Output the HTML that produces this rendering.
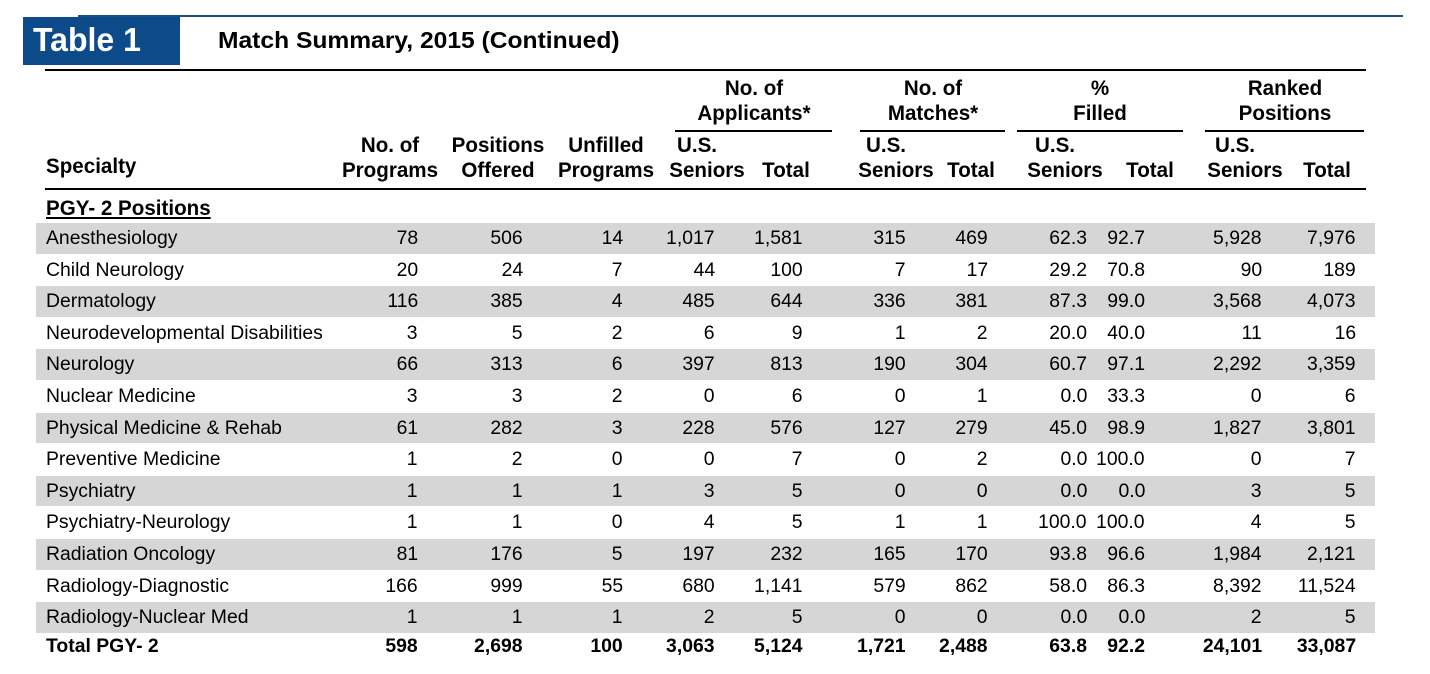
<!DOCTYPE html>
<html><head><meta charset="utf-8">
<style>
body{margin:0;width:1430px;height:674px;background:#fff;position:relative;overflow:hidden;font-family:"Liberation Sans",Arial,sans-serif;color:#000}
.a{position:absolute;white-space:nowrap}
.r{transform-origin:right center}
.l{transform-origin:left center}
.t{font-size:19px;transform:scaleX(1.02)}
.h{font-size:21px;font-weight:bold;transform:scaleX(0.98);text-align:center;line-height:25px}
.line{position:absolute;background:#000}
</style></head><body>
<div class="a" style="left:78px;top:15px;width:1325px;height:2px;background:#1a4f8a"></div>
<div class="a" style="left:23px;top:17px;width:157px;height:48px;background:#0d4a8a"></div>
<div class="a" style="left:33px;top:21px;font-size:33px;font-weight:bold;color:#fff;transform:scaleX(0.97);transform-origin:left">Table 1</div>
<div class="a" style="left:218px;top:27px;font-size:23px;font-weight:bold;transform:scaleX(1.07);transform-origin:left">Match Summary, 2015 (Continued)</div>
<div class="line" style="left:45px;top:69px;width:1321px;height:2px"></div>
<div class="line" style="left:45px;top:188px;width:1321px;height:2px"></div>
<div id="tbl"></div>
<script>
const specialties=["Anesthesiology","Child Neurology","Dermatology","Neurodevelopmental Disabilities","Neurology","Nuclear Medicine","Physical Medicine & Rehab","Preventive Medicine","Psychiatry","Psychiatry-Neurology","Radiation Oncology","Radiology-Diagnostic","Radiology-Nuclear Med"];
const programs=["78","20","116","3","66","3","61","1","1","1","81","166","1"];
const offered=["506","24","385","5","313","3","282","2","1","1","176","999","1"];
const unfilled=["14","7","4","2","6","2","3","0","1","0","5","55","1"];
const appSeniors=["1,017","44","485","6","397","0","228","0","3","4","197","680","2"];
const appTotal=["1,581","100","644","9","813","6","576","7","5","5","232","1,141","5"];
const matSeniors=["315","7","336","1","190","0","127","0","0","1","165","579","0"];
const matTotal=["469","17","381","2","304","1","279","2","0","1","170","862","0"];
const pctSeniors=["62.3","29.2","87.3","20.0","60.7","0.0","45.0","0.0","0.0","100.0","93.8","58.0","0.0"];
const pctTotal=["92.7","70.8","99.0","40.0","97.1","33.3","98.9","100.0","0.0","100.0","96.6","86.3","0.0"];
const rankSeniors=["5,928","90","3,568","11","2,292","0","1,827","0","3","4","1,984","8,392","2"];
const rankTotal=["7,976","189","4,073","16","3,359","6","3,801","7","5","5","2,121","11,524","5"];
const totals=["598","2,698","100","3,063","5,124","1,721","2,488","63.8","92.2","24,101","33,087"];
const cols=[programs,offered,unfilled,appSeniors,appTotal,matSeniors,matTotal,pctSeniors,pctTotal,rankSeniors,rankTotal];
const colNames=["programs","offered","unfilled","app-seniors","app-total","match-seniors","match-total","pct-seniors","pct-total","rank-seniors","rank-total"];
const rightEdges=[418,523,623,715,803,906,988,1087,1145,1262,1356];
const host=document.getElementById('tbl');
function add(html,cls,style){const d=document.createElement('div');d.className='a '+cls;d.setAttribute('style',style);d.textContent=html;host.appendChild(d);return d;}
const hdrs=[["No. of","Programs",390],["Positions","Offered",498],["Unfilled","Programs",606]];
hdrs.forEach(h=>{const d=add('', 'h','left:'+(h[2]-70)+'px;top:133px;width:140px');d.innerHTML=h[0]+'<br>'+h[1];

});
const sp=add('Specialty','h l','left:46px;top:154px;text-align:left');


const groups=[["No. of","Applicants*",675,832,707,786],["No. of","Matches*",860,1005,896,971],["%","Filled",1017,1183,1065,1150],["Ranked","Positions",1205,1364,1245,1327]];
groups.forEach((g,i)=>{
 const c=(g[2]+g[3])/2;
 const d=add('','h','left:'+(c-90)+'px;top:76px;width:180px');d.innerHTML=g[0]+'<br>'+g[1];
 
 
 const ln=add('','line','left:'+g[2]+'px;top:130px;width:'+(g[3]-g[2])+'px;height:2px;background:#000');
 
 
 const u=add('U.S.','h l','left:'+(g[4]-30)+'px;top:133px;text-align:left');
 
 
 const s=add('Seniors','h','left:'+(g[4]-50)+'px;top:158px;width:100px');
 
 
 const t=add('','h','left:'+(g[5]-40)+'px;top:158px;width:80px');t.textContent='Total';
 
 
});
const sec=add('PGY- 2 Positions','h l','left:46px;top:196px;text-align:left;text-decoration:underline');


const y0=223,rh=31.6;
specialties.forEach((s,i)=>{
 const y=y0+i*rh;
 if(i%2===0){const b=add('','','left:36px;top:'+y+'px;width:1339px;height:'+(rh-1)+'px;background:#d6d6d6');
  
  }
 const l=add(s,'t l','left:46px;top:'+(y+5)+'px');
 
 
 cols.forEach((c,j)=>{const d=add(c[i],'t r','right:'+(1430-rightEdges[j])+'px;top:'+(y+5)+'px');
  
  });
});
const ty=y0+13*rh;
const tl=add('Total PGY- 2','t l','left:46px;top:'+(ty+2)+'px;font-weight:bold');


totals.forEach((v,j)=>{const d=add(v,'t r','right:'+(1430-rightEdges[j])+'px;top:'+(ty+2)+'px;font-weight:bold');
 
 });
</script>
</body></html>
